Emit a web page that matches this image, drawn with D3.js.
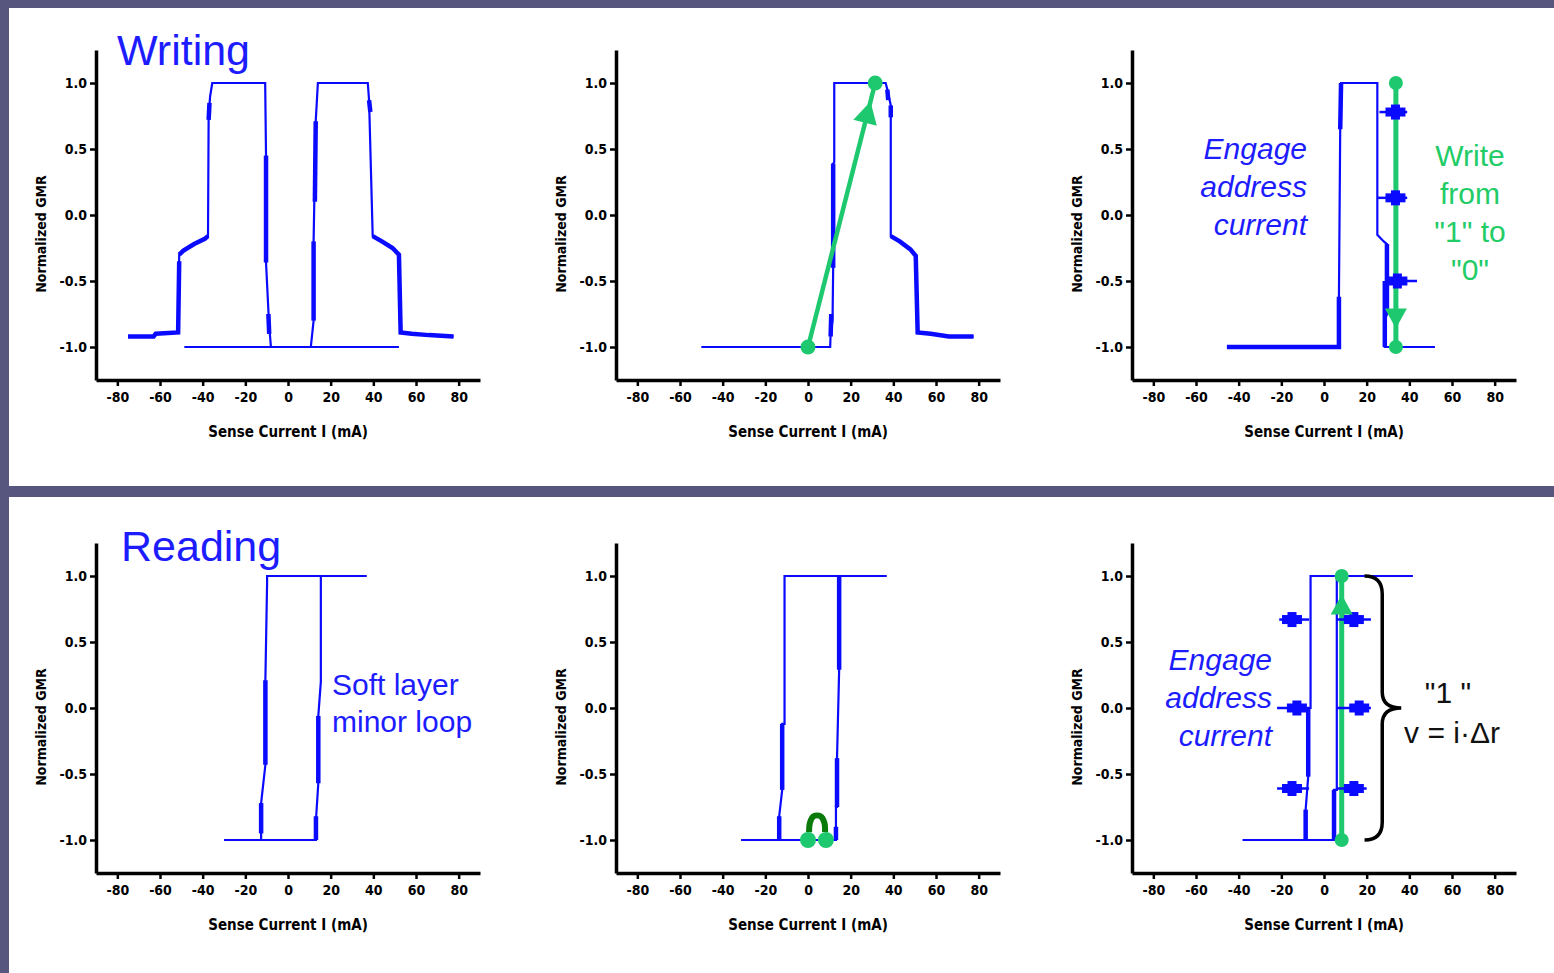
<!DOCTYPE html>
<html>
<head>
<meta charset="utf-8">
<script src="https://cdn.jsdelivr.net/npm/d3@7"></script>
<style>
  body { margin: 0; background: #56567f; }
  svg { display: block; }
</style>
</head>
<body>
<svg id="chart"></svg>
<script>
var xTicks = [-80, -60, -40, -20, 0, 20, 40, 60, 80];
var xMinor = [-90, -70, -50, -30, -10, 10, 30, 50, 70, 90];
var yTicks = [-1.0, -0.5, 0.0, 0.5, 1.0];
var yMinor = [-0.75, -0.25, 0.25, 0.75];

// writing: full loop
var wLoopA = [[-75,-0.92],[-63,-0.92],[-62,-0.9],[-51.5,-0.89],[-51,-0.3],[-49,-0.27],[-44,-0.22],[-39,-0.18],[-37.5,-0.16],[-37.2,0.75],[-36.5,0.9],[-35.5,1.0],[-10.7,1.0],[-10.3,0.45],[-10.3,-0.36],[-8.9,-0.82],[-8,-1.0],[52,-1.0]];
var wLoopB = [[-48.6,-1.0],[10.7,-1.0],[12,-0.8],[12,-0.2],[13,0.71],[14,1.0],[37.4,1.0],[38,0.87],[39.7,-0.16],[44,-0.2],[49,-0.25],[52,-0.3],[52.8,-0.89],[58,-0.9],[66,-0.91],[77.6,-0.92]];
var wDense = [
  [[-75,-0.92],[-63,-0.92],[-62,-0.9],[-51.5,-0.89],[-51,-0.35]],
  [[-51,-0.3],[-49,-0.27],[-44,-0.22],[-39,-0.18],[-37.5,-0.16]],
  [[-37.2,0.72],[-36.8,0.85]],
  [[-10.3,0.45],[-10.3,-0.36]],
  [[-9.2,-0.75],[-8.8,-0.9]],
  [[12,-0.8],[12,-0.2]],
  [[12.6,0.1],[13,0.71]],
  [[38,0.87],[38.6,0.78]],
  [[39.7,-0.16],[44,-0.2],[49,-0.25],[52,-0.3],[52.8,-0.89],[58,-0.9],[66,-0.91],[77.6,-0.92]]
];

// writing: "0" -> "1"
var w2Loop = [[-50,-1.0],[10.4,-1.0],[10.6,-0.9],[11.5,-0.8],[11.8,-0.4],[11.8,0.39],[12.3,0.4],[12.3,1.0],[36.4,1.0],[37.2,0.95],[38.8,0.83],[38.8,-0.16],[43,-0.2],[48,-0.26],[50.5,-0.31],[51.4,-0.89],[57.5,-0.9],[66,-0.92],[77.6,-0.92]];
var w2Dense = [
  [[10.6,-0.92],[10.9,-0.75]],
  [[11.8,-0.4],[11.8,0.39]],
  [[37.2,0.95],[37.6,0.87]],
  [[38.8,0.83],[38.8,0.74]],
  [[38.8,-0.16],[43,-0.2],[48,-0.26],[50.5,-0.31],[51.4,-0.89],[57.5,-0.9],[66,-0.92],[77.6,-0.92]]
];
var w2Write = [[0,-1.0],[31.5,1.0]];

// writing: "1" -> "0" with address current
var w3Loop = [[-45.5,-1.0],[7,-1.0],[7,-0.62],[7.6,0.65],[8,1.0],[25,1.0],[25,-0.15],[28,-0.2],[29.5,-0.22],[29.5,-0.75],[28.5,-0.8],[28.5,-1.0],[52,-1.0]];
var w3Dense = [
  [[-45.5,-1.0],[7,-1.0],[7,-0.62]],
  [[7.6,0.65],[8,1.0]],
  [[29.5,-0.22],[29.5,-0.75]],
  [[28.5,-0.5],[28.5,-1.0]]
];
var w3Write = [[33.7,1.0],[33.7,-1.0]];
var w3BarY = [0.78, 0.13, -0.5];
var w3BarFrom = [26, 25, 29];
var w3BarTo = [39, 39, 43.6];
var w3BarMid = [33.5, 33.5, 34.4];

// reading: soft layer minor loop
var rUp = [[-30,-1],[13.1,-1],[13.1,-0.85],[14.2,-0.57],[14.2,-0.06],[15.4,0.2],[15.4,1],[36.8,1]];
var rDown = [[36.8,1],[-9.8,1],[-9.8,0.95],[-10.6,0.21],[-10.6,-0.43],[-12.6,-0.72],[-12.6,-1],[-30,-1]];
var rDense = [
  [[13.1,-1],[13.1,-0.82]],
  [[14.2,-0.57],[14.2,-0.06]],
  [[-10.6,0.21],[-10.6,-0.43]],
  [[-12.6,-0.72],[-12.6,-0.95]]
];

// reading: small current loop
var r2Up = [[-31.3,-1],[13.1,-1],[13.1,-0.75],[13.6,-0.75],[13.6,-0.38],[14.6,0.29],[14.6,1],[36.8,1]];
var r2Down = [[36.8,1],[-11,1],[-11,-0.12],[-12.1,-0.12],[-12.1,-0.62],[-13.5,-0.82],[-13.5,-1],[-31.3,-1]];
var r2Dense = [
  [[13.1,-1],[13.1,-0.9]],
  [[13.6,-0.75],[13.6,-0.38]],
  [[14.6,0.29],[14.6,1]],
  [[-12.1,-0.12],[-12.1,-0.62]],
  [[-13.5,-0.82],[-13.5,-1]]
];
var r2Dots = [[0,-1],[8.4,-1]];
var r2Path = [[0.5,-0.94],[0.9,-0.87],[2.6,-0.82],[5.9,-0.82],[7.7,-0.87],[8,-0.94]];

// reading with address current
var r3Up = [[-38.1,-1],[4.7,-1],[4.7,-0.62],[6,-0.62],[6,1],[41.6,1]];
var r3Down = [[41.6,1],[-6.3,1],[-6.3,0],[-7.4,0],[-7.4,-0.52],[-8.6,-0.77],[-8.6,-1],[-38.1,-1]];
var r3Dense = [
  [[4.7,-1],[4.7,-0.62]],
  [[-7.4,0],[-7.4,-0.52]],
  [[-8.6,-0.77],[-8.6,-1]]
];
var r3Read = [[8.3,-1],[8.3,1]];
var r3BarY = [0.67, 0.0, -0.61, 0.67, 0.0, -0.61];
var r3BarFrom = [-21, -22, -22, 6, 6, 6];
var r3BarTo = [-7, -7, -7, 22, 22, 20];
var r3BarMid = [-15, -12.7, -15, 14, 16.5, 14];
var braceX = [19, 27.3, 36.2];
var braceY = [1.0, -1.0];

var W = 1554, H = 973;
var blue = "#0a0aff", green = "#1ec86e", dark = "#0a7a0a";
var axisFont = "'Liberation Sans Narrow','DejaVu Sans Condensed','Liberation Sans',sans-serif";
var textFont = "'Liberation Sans',Arial,sans-serif";

var svg = d3.select("#chart").attr("width", W).attr("height", H);

svg.append("rect").attr("width", W).attr("height", H).attr("fill", "#56567f");
svg.append("rect").attr("x", 9).attr("y", 8).attr("width", W - 9).attr("height", 478).attr("fill", "#fff");
svg.append("rect").attr("x", 9).attr("y", 497).attr("width", W - 9).attr("height", 476).attr("fill", "#fff");

function panel(left, top, bottom) {
  var x = d3.scaleLinear().domain([-90, 90]).range([left, left + 384]);
  var y = d3.scaleLinear().domain([-1.25, 1.25]).range([bottom, top]);
  var g = svg.append("g");

  var gx = g.append("g").attr("transform", "translate(0," + bottom + ")");
  gx.call(d3.axisBottom(x).tickValues(xMinor).tickSize(4).tickSizeOuter(0).tickFormat(""));
  gx.call(d3.axisBottom(x).tickValues(xTicks).tickSize(6).tickSizeOuter(0).tickFormat(function(d) { return String(d); }));

  var gy = g.append("g").attr("transform", "translate(" + left + ",0)");
  gy.call(d3.axisLeft(y).tickValues(yMinor).tickSize(4).tickSizeOuter(0).tickFormat(""));
  gy.call(d3.axisLeft(y).tickValues(yTicks).tickSize(6).tickSizeOuter(0).tickFormat(function(d) { return d.toFixed(1); }));

  g.selectAll(".domain").attr("stroke", "#000").attr("stroke-width", 3.5);
  g.selectAll(".tick line").attr("stroke", "#000").attr("stroke-width", 2.5);
  g.selectAll(".tick text")
    .attr("font-family", axisFont)
    .attr("font-weight", "bold")
    .attr("font-size", 14)
    .attr("fill", "#000");
  gx.selectAll(".tick text").attr("dy", "0.95em");

  g.append("text")
    .attr("transform", "translate(" + (left - 50) + "," + (top + 184) + ") rotate(-90)")
    .attr("text-anchor", "middle")
    .attr("font-family", axisFont)
    .attr("font-weight", "bold")
    .attr("font-size", 14)
    .text("Normalized GMR");

  g.append("text")
    .attr("x", left + 192)
    .attr("y", bottom + 57)
    .attr("text-anchor", "middle")
    .attr("font-family", axisFont)
    .attr("font-weight", "bold")
    .attr("font-size", 15)
    .text("Sense Current I (mA)");

  var line = d3.line().x(function(d) { return x(d[0]); }).y(function(d) { return y(d[1]); });
  return { g: g, x: x, y: y, line: line };
}

function curves(p, lines, dense) {
  p.g.append("g").selectAll("path").data(lines).enter().append("path")
    .attr("d", p.line)
    .attr("fill", "none")
    .attr("stroke", blue)
    .attr("stroke-width", 2.2);
  p.g.append("g").selectAll("path").data(dense).enter().append("path")
    .attr("d", p.line)
    .attr("fill", "none")
    .attr("stroke", blue)
    .attr("stroke-width", 4.5);
}

function bars(p, ys, from, to, mid) {
  var g = p.g.append("g").attr("fill", blue);
  ys.forEach(function(v, i) {
    var yy = p.y(v), xm = p.x(mid[i]);
    g.append("line")
      .attr("x1", p.x(from[i])).attr("x2", p.x(to[i]))
      .attr("y1", yy).attr("y2", yy)
      .attr("stroke", blue).attr("stroke-width", 2.5);
    g.append("rect").attr("x", xm - 10).attr("y", yy - 4.5).attr("width", 20).attr("height", 9);
    g.append("rect").attr("x", xm - 4.5).attr("y", yy - 7.5).attr("width", 9).attr("height", 15);
  });
}

function arrowHead(g, x1, y1, x2, y2, t, size, color) {
  // triangle pointing from (x1,y1) towards (x2,y2), tip at fraction t
  var dx = x2 - x1, dy = y2 - y1, len = Math.sqrt(dx * dx + dy * dy);
  var ux = dx / len, uy = dy / len;
  var tx = x1 + dx * t, ty = y1 + dy * t;
  var bx = tx - ux * size, by = ty - uy * size;
  var px = -uy * size * 0.55, py = ux * size * 0.55;
  g.append("path")
    .attr("d", "M" + tx + "," + ty + "L" + (bx + px) + "," + (by + py) + "L" + (bx - px) + "," + (by - py) + "Z")
    .attr("fill", color);
}

function label(lines, x, y, dy, anchor, color, style) {
  var t = svg.append("text")
    .attr("font-family", textFont)
    .attr("font-size", 30)
    .attr("fill", color)
    .attr("text-anchor", anchor)
    .attr("font-style", style || "normal");
  lines.forEach(function(s, i) {
    t.append("tspan").attr("x", x).attr("y", y + i * dy).text(s);
  });
}

// ---- top row
var p1 = panel(96, 50, 380);
curves(p1, [wLoopA, wLoopB], wDense);
svg.append("text").attr("x", 117).attr("y", 65)
  .attr("font-family", textFont).attr("font-size", 43).attr("fill", "#1c1cff")
  .text("Writing");

var p2 = panel(616, 50, 380);
curves(p2, [w2Loop], w2Dense);
(function() {
  var a = w2Write[0], b = w2Write[1];
  var x1 = p2.x(a[0]), y1 = p2.y(a[1]), x2 = p2.x(b[0]), y2 = p2.y(b[1]);
  p2.g.append("path").attr("d", p2.line(w2Write)).attr("stroke", green).attr("stroke-width", 4.5).attr("fill", "none");
  arrowHead(p2.g, x1, y1, x2, y2, 0.93, 22, green);
  p2.g.selectAll(".dot").data(w2Write).enter().append("circle")
    .attr("cx", function(d) { return p2.x(d[0]); })
    .attr("cy", function(d) { return p2.y(d[1]); })
    .attr("r", 7.5).attr("fill", green);
})();

var p3 = panel(1132, 50, 380);
curves(p3, [w3Loop], w3Dense);
(function() {
  p3.g.append("path").attr("d", p3.line(w3Write)).attr("stroke", green).attr("stroke-width", 5).attr("fill", "none");
  bars(p3, w3BarY, w3BarFrom, w3BarTo, w3BarMid);
  var xx = p3.x(w3Write[0][0]);
  arrowHead(p3.g, xx, p3.y(1.0), xx, p3.y(-1.0), 0.93, 20, green);
  p3.g.selectAll(".dot").data(w3Write).enter().append("circle")
    .attr("cx", function(d) { return p3.x(d[0]); })
    .attr("cy", function(d) { return p3.y(d[1]); })
    .attr("r", 7).attr("fill", green);
})();
label(["Engage", "address", "current"], 1307, 159, 38, "end", "#1c1cff", "italic");
label(["Write", "from", "\"1\" to", "\"0\""], 1470, 166, 38, "middle", "#22cc66");

// ---- bottom row
var p4 = panel(96, 543, 873);
curves(p4, [rUp, rDown], rDense);
svg.append("text").attr("x", 121).attr("y", 561)
  .attr("font-family", textFont).attr("font-size", 43).attr("fill", "#1c1cff")
  .text("Reading");
label(["Soft layer", "minor loop"], 332, 695, 37, "start", "#1c1cff");

var p5 = panel(616, 543, 873);
curves(p5, [r2Up, r2Down], r2Dense);
(function() {
  var lc = d3.line().curve(d3.curveCardinal)
    .x(function(d) { return p5.x(d[0]); }).y(function(d) { return p5.y(d[1]); });
  p5.g.append("path").attr("d", lc(r2Path)).attr("stroke", dark).attr("stroke-width", 6).attr("fill", "none");
  p5.g.selectAll(".dot").data(r2Dots).enter().append("circle")
    .attr("cx", function(d) { return p5.x(d[0]); })
    .attr("cy", function(d) { return p5.y(d[1]); })
    .attr("r", 8).attr("fill", green);
})();

var p6 = panel(1132, 543, 873);
curves(p6, [r3Up, r3Down], r3Dense);
(function() {
  p6.g.append("path").attr("d", p6.line(r3Read)).attr("stroke", green).attr("stroke-width", 5).attr("fill", "none");
  bars(p6, r3BarY, r3BarFrom, r3BarTo, r3BarMid);
  var xx = p6.x(r3Read[0][0]);
  arrowHead(p6.g, xx, p6.y(-1.0), xx, p6.y(1.0), 0.93, 20, green);
  p6.g.selectAll(".dot").data(r3Read).enter().append("circle")
    .attr("cx", function(d) { return p6.x(d[0]); })
    .attr("cy", function(d) { return p6.y(d[1]); })
    .attr("r", 7).attr("fill", green);

  // curly brace
  var x0 = p6.x(braceX[0]), xm = p6.x(braceX[1]), xt = p6.x(braceX[2]);
  var yt = p6.y(braceY[0]), yb = p6.y(braceY[1]), yc = (yt + yb) / 2;
  var d = "M" + x0 + "," + yt +
    "Q" + xm + "," + yt + " " + xm + "," + (yt + 18) +
    "L" + xm + "," + (yc - 16) +
    "Q" + xm + "," + yc + " " + xt + "," + yc +
    "Q" + xm + "," + yc + " " + xm + "," + (yc + 16) +
    "L" + xm + "," + (yb - 18) +
    "Q" + xm + "," + yb + " " + x0 + "," + yb;
  p6.g.append("path").attr("d", d).attr("fill", "none").attr("stroke", "#000").attr("stroke-width", 3.5);
})();
label(["Engage", "address", "current"], 1272, 670, 38, "end", "#1c1cff", "italic");
label(["\"1 \""], 1448, 703, 38, "middle", "#111");
label(["v = i·Δr"], 1452, 743, 38, "middle", "#111");
</script>
</body>
</html>
